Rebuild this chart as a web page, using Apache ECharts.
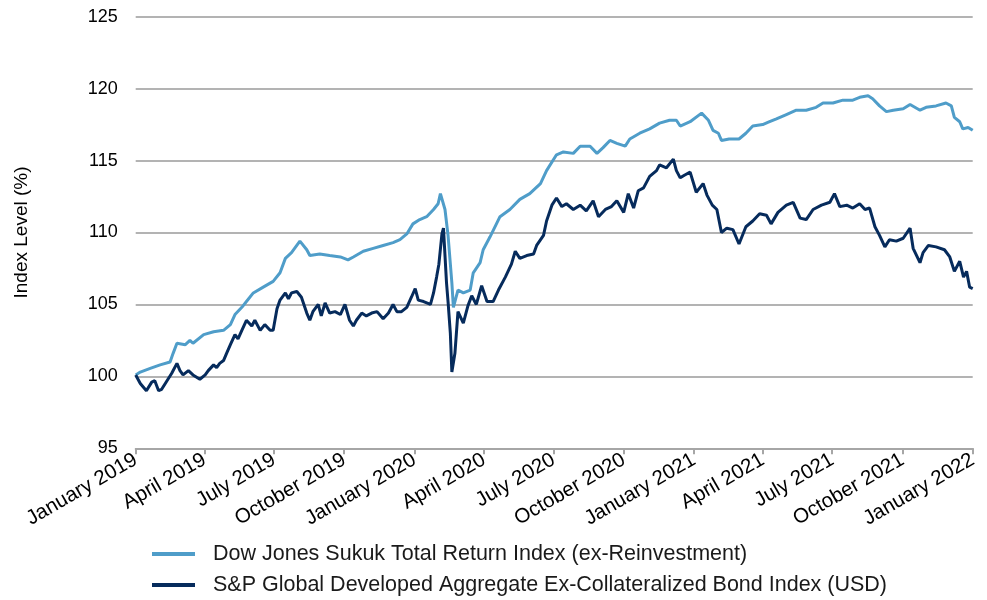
<!DOCTYPE html>
<html>
<head>
<meta charset="utf-8">
<script src="https://cdn.jsdelivr.net/npm/echarts@6/dist/echarts.min.js"></script>
<style>
html,body{margin:0;padding:0;background:#fff;}
#chart{width:987px;height:600px;}
</style>
</head>
<body>
<div id="chart"></div>
<script>
const seriesNames = [
  'Dow Jones Sukuk Total Return Index (ex-Reinvestment)',
  'S&P Global Developed Aggregate Ex-Collateralized Bond Index (USD)'
];
const monthNames = ['January','February','March','April','May','June','July','August','September','October','November','December'];
const yTicks = [95, 100, 105, 110, 115, 120, 125];

const sukuk = [
  ['2019-01-01',100.1],['2019-01-07',100.3],['2019-01-20',100.55],['2019-02-02',100.8],['2019-02-15',101.0],
  ['2019-02-19',101.6],['2019-02-24',102.3],['2019-03-07',102.2],['2019-03-13',102.5],['2019-03-17',102.3],
  ['2019-03-31',102.9],['2019-04-13',103.1],['2019-04-26',103.2],['2019-05-05',103.6],['2019-05-11',104.3],
  ['2019-05-20',104.8],['2019-05-26',105.2],['2019-06-04',105.8],['2019-06-17',106.2],['2019-06-30',106.6],
  ['2019-07-09',107.2],['2019-07-16',108.2],['2019-07-24',108.6],['2019-08-04',109.4],['2019-08-13',108.8],
  ['2019-08-17',108.4],['2019-08-30',108.5],['2019-09-12',108.4],['2019-09-26',108.3],['2019-10-06',108.1],
  ['2019-10-13',108.3],['2019-10-26',108.7],['2019-11-08',108.9],['2019-11-21',109.1],['2019-12-04',109.3],
  ['2019-12-13',109.5],['2019-12-22',109.9],['2019-12-30',110.6],['2020-01-08',110.9],['2020-01-17',111.1],
  ['2020-01-26',111.6],['2020-02-01',112.0],['2020-02-04',112.7],['2020-02-10',111.6],['2020-02-14',109.8],
  ['2020-02-19',106.5],['2020-02-21',104.8],['2020-02-27',106.0],['2020-03-05',105.8],['2020-03-14',106.0],
  ['2020-03-18',107.2],['2020-03-27',107.9],['2020-03-31',108.8],['2020-04-09',109.7],['2020-04-22',111.1],
  ['2020-05-05',111.6],['2020-05-18',112.3],['2020-05-31',112.7],['2020-06-14',113.4],['2020-06-22',114.3],
  ['2020-07-05',115.4],['2020-07-14',115.6],['2020-07-27',115.5],['2020-08-05',116.0],['2020-08-18',116.0],
  ['2020-08-27',115.5],['2020-09-04',115.9],['2020-09-13',116.4],['2020-09-22',116.2],['2020-10-03',116.0],
  ['2020-10-09',116.5],['2020-10-22',116.9],['2020-11-04',117.2],['2020-11-17',117.6],['2020-11-30',117.8],
  ['2020-12-09',117.8],['2020-12-14',117.4],['2020-12-27',117.7],['2021-01-11',118.3],['2021-01-20',117.8],
  ['2021-01-26',117.1],['2021-02-02',116.9],['2021-02-06',116.4],['2021-02-16',116.5],['2021-03-01',116.5],
  ['2021-03-10',116.9],['2021-03-19',117.4],['2021-04-01',117.5],['2021-04-10',117.7],['2021-04-19',117.9],
  ['2021-05-02',118.2],['2021-05-15',118.5],['2021-05-28',118.5],['2021-06-10',118.7],['2021-06-19',119.0],
  ['2021-07-02',119.0],['2021-07-15',119.2],['2021-07-28',119.2],['2021-08-06',119.4],['2021-08-17',119.5],
  ['2021-08-23',119.3],['2021-09-01',118.8],['2021-09-10',118.4],['2021-09-19',118.5],['2021-10-02',118.6],
  ['2021-10-11',118.9],['2021-10-24',118.5],['2021-11-01',118.7],['2021-11-14',118.8],['2021-11-27',119.0],
  ['2021-12-04',118.8],['2021-12-08',118.0],['2021-12-15',117.7],['2021-12-19',117.2],['2021-12-26',117.3],
  ['2022-01-01',117.1]
];

const bond = [
  ['2019-01-01',100.1],['2019-01-07',99.5],['2019-01-15',99.0],['2019-01-22',99.6],['2019-01-26',99.7],
  ['2019-01-31',99.0],['2019-02-04',99.1],['2019-02-11',99.7],['2019-02-17',100.2],['2019-02-24',100.9],
  ['2019-02-28',100.4],['2019-03-04',100.1],['2019-03-11',100.4],['2019-03-17',100.1],['2019-03-26',99.8],
  ['2019-04-02',100.1],['2019-04-06',100.4],['2019-04-13',100.8],['2019-04-17',100.6],['2019-04-21',100.9],
  ['2019-04-26',101.1],['2019-04-30',101.6],['2019-05-05',102.2],['2019-05-11',102.9],['2019-05-15',102.6],
  ['2019-05-20',103.2],['2019-05-26',103.9],['2019-06-02',103.5],['2019-06-06',103.9],['2019-06-13',103.2],
  ['2019-06-19',103.6],['2019-06-26',103.2],['2019-06-30',103.2],['2019-07-05',104.7],['2019-07-09',105.3],
  ['2019-07-16',105.8],['2019-07-20',105.4],['2019-07-24',105.8],['2019-07-31',105.9],['2019-08-06',105.5],
  ['2019-08-13',104.4],['2019-08-17',103.9],['2019-08-21',104.5],['2019-08-28',105.0],['2019-09-01',104.2],
  ['2019-09-06',105.1],['2019-09-12',104.4],['2019-09-19',104.5],['2019-09-26',104.3],['2019-10-02',105.0],
  ['2019-10-08',103.9],['2019-10-13',103.5],['2019-10-17',103.9],['2019-10-24',104.4],['2019-10-30',104.2],
  ['2019-11-06',104.4],['2019-11-13',104.5],['2019-11-21',104.0],['2019-11-28',104.4],['2019-12-04',105.0],
  ['2019-12-09',104.5],['2019-12-15',104.5],['2019-12-22',104.8],['2019-12-28',105.5],['2020-01-02',106.1],
  ['2020-01-06',105.3],['2020-01-13',105.2],['2020-01-22',105.0],['2020-01-26',105.8],['2020-01-30',106.9],
  ['2020-02-02',107.8],['2020-02-06',109.9],['2020-02-08',110.3],['2020-02-12',106.5],['2020-02-14',105.2],
  ['2020-02-17',103.0],['2020-02-19',100.3],['2020-02-23',101.6],['2020-02-27',104.5],['2020-03-05',103.7],
  ['2020-03-11',104.9],['2020-03-16',105.6],['2020-03-22',105.0],['2020-03-29',106.3],['2020-04-05',105.2],
  ['2020-04-13',105.2],['2020-04-20',106.0],['2020-04-29',106.9],['2020-05-07',107.8],['2020-05-12',108.7],
  ['2020-05-18',108.2],['2020-05-27',108.4],['2020-06-05',108.5],['2020-06-09',109.1],['2020-06-18',109.8],
  ['2020-06-22',110.8],['2020-06-29',111.9],['2020-07-05',112.4],['2020-07-12',111.8],['2020-07-18',112.0],
  ['2020-07-27',111.6],['2020-08-05',111.9],['2020-08-13',111.5],['2020-08-22',112.2],['2020-08-29',111.1],
  ['2020-09-07',111.6],['2020-09-15',111.8],['2020-09-22',112.2],['2020-10-01',111.4],['2020-10-07',112.7],
  ['2020-10-14',111.7],['2020-10-20',112.9],['2020-10-27',113.1],['2020-11-04',113.9],['2020-11-13',114.3],
  ['2020-11-17',114.7],['2020-11-26',114.5],['2020-12-05',115.1],['2020-12-09',114.3],['2020-12-14',113.8],
  ['2020-12-20',114.0],['2020-12-27',114.2],['2021-01-04',112.8],['2021-01-13',113.4],['2021-01-18',112.6],
  ['2021-01-25',111.9],['2021-01-31',111.6],['2021-02-06',110.0],['2021-02-13',110.3],['2021-02-21',110.2],
  ['2021-03-01',109.2],['2021-03-10',110.4],['2021-03-19',110.8],['2021-03-28',111.3],['2021-04-06',111.2],
  ['2021-04-12',110.6],['2021-04-21',111.4],['2021-05-02',111.9],['2021-05-11',112.1],['2021-05-20',111.0],
  ['2021-05-28',110.9],['2021-06-06',111.6],['2021-06-17',111.9],['2021-06-28',112.1],['2021-07-04',112.7],
  ['2021-07-11',111.8],['2021-07-20',111.9],['2021-07-28',111.7],['2021-08-06',112.0],['2021-08-13',111.6],
  ['2021-08-19',111.7],['2021-08-26',110.4],['2021-09-01',109.8],['2021-09-08',109.0],['2021-09-14',109.5],
  ['2021-09-23',109.4],['2021-10-02',109.6],['2021-10-11',110.3],['2021-10-15',108.9],['2021-10-24',107.9],
  ['2021-10-28',108.6],['2021-11-04',109.1],['2021-11-14',109.0],['2021-11-25',108.8],['2021-12-02',108.3],
  ['2021-12-08',107.3],['2021-12-15',108.0],['2021-12-20',106.9],['2021-12-24',107.3],['2021-12-28',106.2],
  ['2022-01-01',106.1]
];

const FONT = '"Liberation Sans", Arial, sans-serif';
const legendCommon = {
  orient: 'horizontal',
  left: 152,
  itemWidth: 43,
  itemHeight: 4,
  icon: 'rect',
  padding: 0,
  textStyle: { fontFamily: FONT, fontSize: 21.5, color: '#1a1a1a', padding: [0, 0, 0, 13] }
};
const chart = echarts.init(document.getElementById('chart'));
chart.setOption({
  animation: false,
  backgroundColor: '#ffffff',
  textStyle: { fontFamily: FONT },
  grid: { left: 135.7, right: 14.3, top: 16.7, bottom: 151.7, containLabel: false },
  legend: [
    Object.assign({}, legendCommon, { top: 543, data: [seriesNames[0]] }),
    Object.assign({}, legendCommon, { top: 574, data: [seriesNames[1]] })
  ],
  xAxis: {
    type: 'time',
    min: '2019-01-01',
    max: '2022-01-01',
    splitNumber: 10,
    axisLine: { show: true, lineStyle: { color: '#a6a6a6', width: 2 } },
    axisTick: { show: true, length: 6, lineStyle: { color: '#a6a6a6', width: 2 } },
    splitLine: { show: false },
    axisLabel: {
      rotate: 30,
      margin: 10,
      showMinLabel: true,
      showMaxLabel: true,
      hideOverlap: false,
      fontFamily: FONT,
      fontSize: 20.5,
      color: '#000',
      formatter: function (v) {
        const d = new Date(v);
        return monthNames[d.getMonth()] + ' ' + d.getFullYear();
      }
    }
  },
  yAxis: {
    type: 'value',
    min: yTicks[0],
    max: yTicks[yTicks.length - 1],
    interval: 5,
    name: 'Index Level (%)',
    nameLocation: 'middle',
    nameGap: 104,
    nameTextStyle: { fontFamily: FONT, fontSize: 19, color: '#000' },
    axisLine: { show: false },
    axisTick: { show: false },
    splitLine: { show: true, lineStyle: { color: '#b3b3b3', width: 2 } },
    axisLabel: { fontFamily: FONT, fontSize: 18, color: '#000', margin: 18 }
  },
  series: [
    {
      name: seriesNames[0],
      type: 'line',
      data: sukuk,
      showSymbol: false,
      symbol: 'none',
      lineStyle: { color: '#4f9dc9', width: 3 },
      itemStyle: { color: '#4f9dc9' }
    },
    {
      name: seriesNames[1],
      type: 'line',
      data: bond,
      showSymbol: false,
      symbol: 'none',
      lineStyle: { color: '#062b5c', width: 3 },
      itemStyle: { color: '#062b5c' }
    }
  ]
});
</script>
</body>
</html>
